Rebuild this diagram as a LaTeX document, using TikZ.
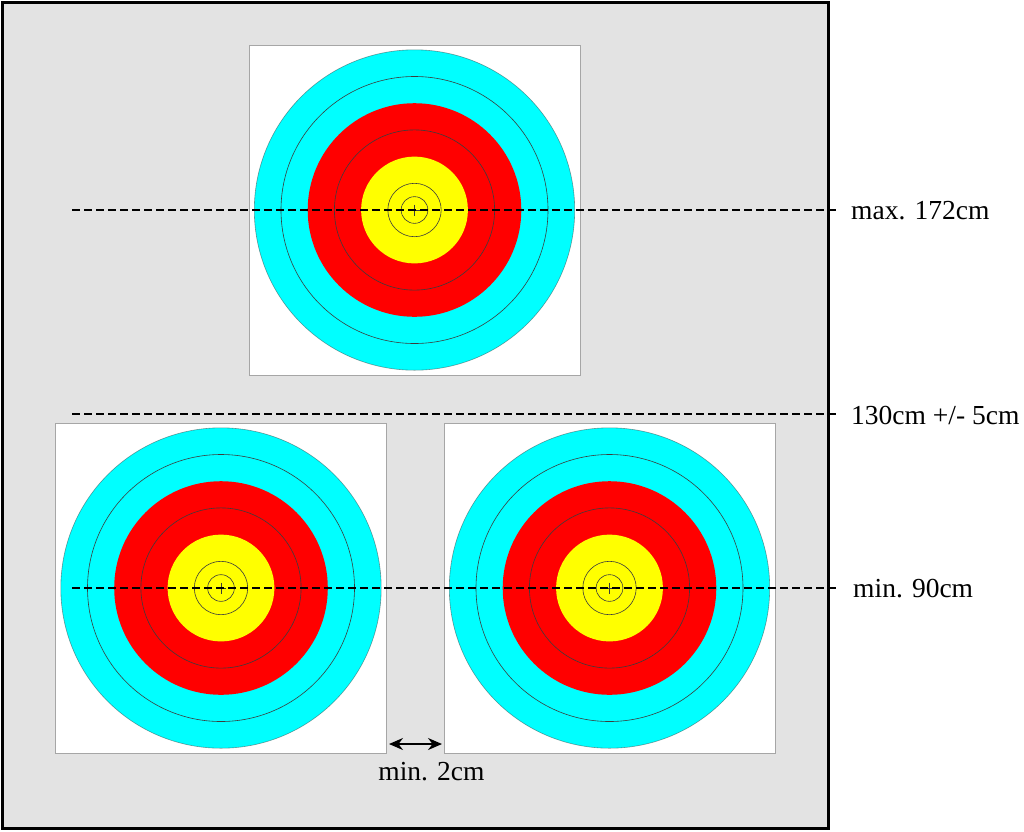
\documentclass[tikz,border=0pt]{standalone}
\usepackage{fontspec}
\setmainfont{Liberation Serif}
\usetikzlibrary{arrows.meta}
\definecolor{panelgray}{RGB}{227,227,227}
\definecolor{tcyan}{RGB}{0,255,255}
\definecolor{tred}{RGB}{255,0,0}
\definecolor{tyellow}{RGB}{255,255,0}
\definecolor{ringline}{RGB}{60,60,60}
\newcommand{\targetface}[3]{%
  \begin{scope}[shift={(#1,#2)}]
    \coordinate (#3) at (0,0);
    \draw[facebox] (-165.5,-165) rectangle (165.5,165);
    \fill[tcyan] (0,0) circle (160.2);
    \draw[ring,draw opacity=0.5] (0,0) circle (160.2);
    \draw[ring] (0,0) circle (133.5);
    \fill[tred] (0,0) circle (106.8);
    \draw[ring] (0,0) circle (80.1);
    \fill[tyellow] (0,0) circle (53.4);
    \draw[ring] (0,0) circle (26.7);
    \draw[ring] (0,0) circle (13.35);
    \draw[ring] (-5,0) -- (5,0) (0,-5.5) -- (0,5.5);
  \end{scope}}
\begin{document}
\begin{tikzpicture}[x=1pt,y=-1pt,
  facebox/.style={draw=gray!70,line width=0.8pt,fill=white},
  ring/.style={draw=ringline,line width=0.6pt},
  level/.style={draw=black,line width=2.1pt,dash pattern=on 8pt off 4pt},
  lab/.style={anchor=west,inner sep=0pt,font=\fontsize{27.5}{30}\selectfont},
  gap/.style={{Stealth[length=14pt,width=12pt]}-{Stealth[length=14pt,width=12pt]},line width=1.6pt}]
\useasboundingbox (0,0) rectangle (1024,831);
\fill[white] (0,0) rectangle (1024,831);
\draw[fill=panelgray,line width=3pt] (2.5,2.5) rectangle (828.5,828.5);
\targetface{414.5}{210}{ctop}
\targetface{221}{588}{cleft}
\targetface{609.5}{588}{cright}
% level lines
\coordinate (l1a) at (72,210);  \coordinate (l1b) at (838,210);
\coordinate (l2a) at (72,414);  \coordinate (l2b) at (838,414);
\coordinate (l3a) at (72,588);  \coordinate (l3b) at (838,588);
\draw[level] (l1a) -- (l1b);
\draw[level] (l2a) -- (l2b);
\draw[level] (l3a) -- (l3b);
\node[lab] (t1) at (851,211) {max. 172cm};
\node[lab] (t2) at (851,415) {130cm +/- 5cm};
\node[lab] (t3) at (853,589) {min. 90cm};
% gap arrow
\coordinate (ga) at (389,744);
\coordinate (gb) at (442,744);
\draw[gap] (ga) -- (gb);
\node[inner sep=0pt,font=\fontsize{27.5}{30}\selectfont] (t4) at (431.5,772) {min. 2cm};
\end{tikzpicture}
\end{document}
